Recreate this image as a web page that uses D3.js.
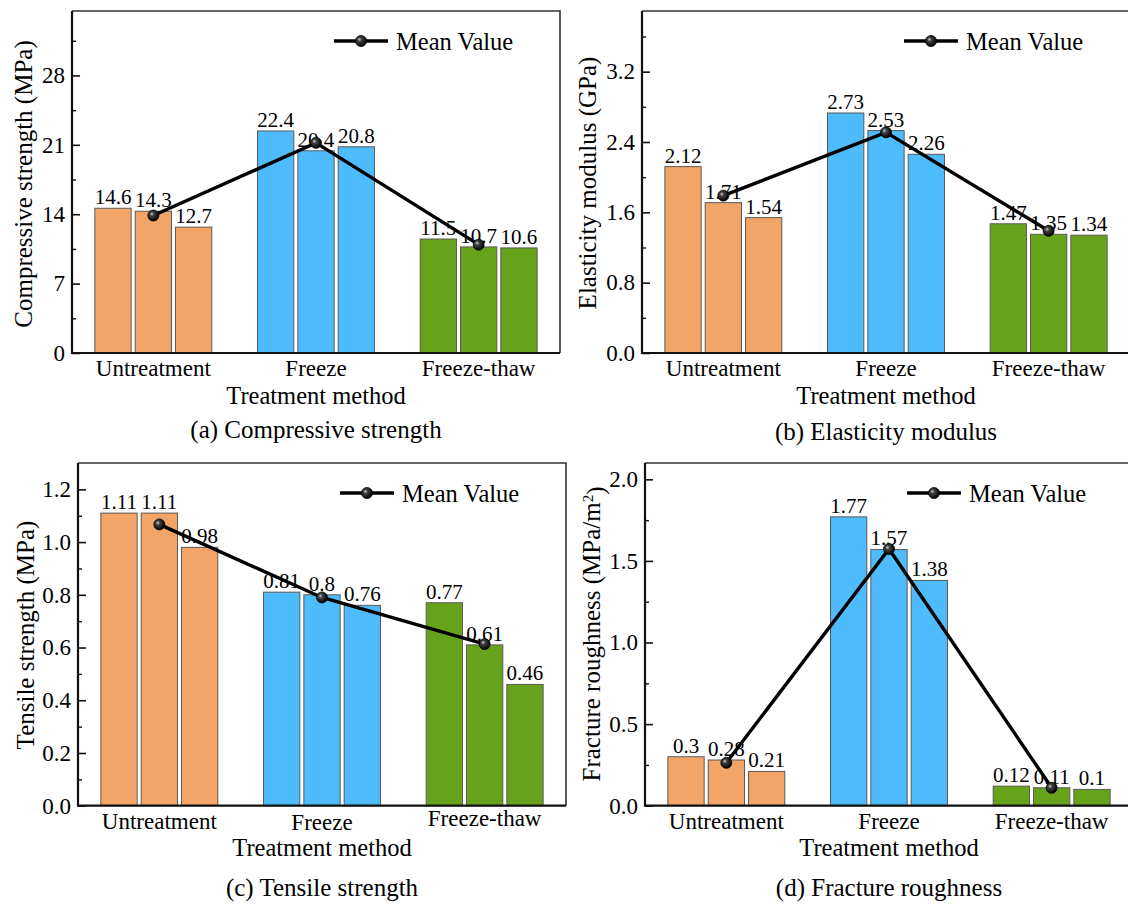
<!DOCTYPE html>
<html>
<head>
<meta charset="utf-8">
<script src="https://cdn.jsdelivr.net/npm/d3@7"></script>
<style>
  html, body { margin: 0; padding: 0; background: #fff; }
  svg { display: block; }
  text { font-family: "Liberation Serif", "Times New Roman", serif; fill: #000; }
</style>
</head>
<body>
<svg id="chart" width="1128" height="908"></svg>
<script>
// Treatment groups shared by all four panels
const categories = ["Untreatment", "Freeze", "Freeze-thaw"];

// (a) Compressive strength, MPa — three specimens per group
const compressiveValues = [[14.6, 14.3, 12.7], [22.4, 20.4, 20.8], [11.5, 10.7, 10.6]];
const compressiveMean = [13.87, 21.2, 10.93];
const compressiveTicks = [0, 7, 14, 21, 28];

// (b) Elasticity modulus, GPa
const elasticityValues = [[2.12, 1.71, 1.54], [2.73, 2.53, 2.26], [1.47, 1.35, 1.34]];
const elasticityMean = [1.79, 2.51, 1.39];
const elasticityTicks = [0, 0.8, 1.6, 2.4, 3.2];

// (c) Tensile strength, MPa
const tensileValues = [[1.11, 1.11, 0.98], [0.81, 0.8, 0.76], [0.77, 0.61, 0.46]];
const tensileMean = [1.067, 0.79, 0.613];
const tensileTicks = [0, 0.2, 0.4, 0.6, 0.8, 1.0, 1.2];

// (d) Fracture roughness, MPa/m²
const roughnessValues = [[0.3, 0.28, 0.21], [1.77, 1.57, 1.38], [0.12, 0.11, 0.1]];
const roughnessMean = [0.263, 1.573, 0.11];
const roughnessTicks = [0, 0.5, 1.0, 1.5, 2.0];

const groupColors = ["#F3A568", "#4EBCFC", "#67A31A"];

const svg = d3.select("#chart");

// radial shading for the mean-value markers
const defs = svg.append("defs");
const grad = defs.append("radialGradient").attr("id", "ball")
  .attr("cx", "40%").attr("cy", "40%").attr("r", "60%").attr("fx", "35%").attr("fy", "35%");
grad.append("stop").attr("offset", "0%").attr("stop-color", "#d0d0d0");
grad.append("stop").attr("offset", "30%").attr("stop-color", "#444");
grad.append("stop").attr("offset", "100%").attr("stop-color", "#000");

const panels = [
  { values: compressiveValues, mean: compressiveMean, ticks: compressiveTicks, yMax: 34.5, minorStep: 3.5,
    fmt: d3.format("d"), title: ["Compressive strength (MPa)"], caption: "(a) Compressive strength",
    left: 72, right: 560, top: 11, bottom: 353, titleX: 23, titleY: 184,
    catY: 376, catDy: [0, 0, 0], xTitleY: 403.5, captionY: 438 },
  { values: elasticityValues, mean: elasticityMean, ticks: elasticityTicks, yMax: 3.89, minorStep: 0.4,
    fmt: d3.format(".1f"), title: ["Elasticity modulus (GPa)"], caption: "(b) Elasticity modulus",
    left: 642, right: 1130, top: 11, bottom: 353, titleX: 587, titleY: 183,
    catY: 376, catDy: [0, 0, 0], xTitleY: 403.5, captionY: 440 },
  { values: tensileValues, mean: tensileMean, ticks: tensileTicks, yMax: 1.3, minorStep: 0.1,
    fmt: d3.format(".1f"), title: ["Tensile strength (MPa)"], caption: "(c) Tensile strength",
    left: 78, right: 566, top: 463, bottom: 805.7, titleX: 25, titleY: 635,
    catY: 829, catDy: [0, 1, -3], xTitleY: 856, captionY: 896 },
  { values: roughnessValues, mean: roughnessMean, ticks: roughnessTicks, yMax: 2.1, minorStep: 0.25,
    fmt: d3.format(".1f"), title: ["Fracture roughness (MPa/m", "2", ")"], caption: "(d) Fracture roughness",
    left: 645, right: 1133, top: 463, bottom: 805.7, titleX: 591, titleY: 634,
    catY: 829, catDy: [0, 0, 0], xTitleY: 856, captionY: 896 }
];

panels.forEach(p => {
  const g = svg.append("g");
  const x = d3.scaleBand().domain(categories).range([p.left, p.right]);
  const xi = d3.scaleBand().domain([0, 1, 2]).range([0, x.bandwidth()])
    .paddingInner(0.1).paddingOuter(0.567);
  const y = d3.scaleLinear().domain([0, p.yMax]).range([p.bottom, p.top]);

  // bars
  categories.forEach((c, ci) => {
    const grp = g.append("g").attr("transform", `translate(${x(c)},0)`);
    grp.selectAll("rect").data(p.values[ci]).join("rect")
      .attr("x", (d, i) => xi(i))
      .attr("y", d => y(d))
      .attr("width", xi.bandwidth())
      .attr("height", d => y(0) - y(d))
      .attr("fill", groupColors[ci])
      .attr("stroke", "#5a5a5a")
      .attr("stroke-width", 1);
    grp.selectAll("text.val").data(p.values[ci]).join("text")
      .attr("class", "val")
      .attr("x", (d, i) => xi(i) + xi.bandwidth() / 2)
      .attr("y", d => y(d) - 4)
      .attr("text-anchor", "middle")
      .style("font-size", "21px")
      .text(d => String(d));
  });

  // frame: top and right edges
  g.append("path")
    .attr("d", `M${p.left},${p.top}H${p.right}V${p.bottom}`)
    .attr("fill", "none").attr("stroke", "#333").attr("stroke-width", 1.6);

  // y axis with inward major and minor ticks
  const yAxis = d3.axisRight(y).tickValues(p.ticks).tickSize(8).tickFormat("");
  const yg = g.append("g").attr("transform", `translate(${p.left},0)`).call(yAxis);
  yg.select(".domain").remove();
  yg.selectAll(".tick line").attr("stroke", "#111").attr("stroke-width", 1.6);
  const minors = d3.range(p.minorStep, p.yMax, p.minorStep).filter(v => !p.ticks.some(t => Math.abs(t - v) < 1e-6));
  const ym = g.append("g").attr("transform", `translate(${p.left},0)`)
    .call(d3.axisRight(y).tickValues(minors).tickSize(4).tickFormat(""));
  ym.select(".domain").remove();
  ym.selectAll(".tick line").attr("stroke", "#111").attr("stroke-width", 1.4);

  g.selectAll("text.ytick").data(p.ticks).join("text")
    .attr("class", "ytick")
    .attr("x", p.left - 7)
    .attr("y", d => y(d))
    .attr("dy", "0.34em")
    .attr("text-anchor", "end")
    .style("font-size", "23px")
    .text(d => p.fmt(d));

  // axis lines
  g.append("path")
    .attr("d", `M${p.left},${p.top}V${p.bottom}H${p.right}`)
    .attr("fill", "none").attr("stroke", "#111").attr("stroke-width", 2.2);

  // category labels
  g.selectAll("text.cat").data(categories).join("text")
    .attr("class", "cat")
    .attr("x", d => x(d) + x.bandwidth() / 2)
    .attr("y", (d, i) => p.catY + p.catDy[i])
    .attr("text-anchor", "middle")
    .style("font-size", "23px")
    .text(d => d);

  const cx = (p.left + p.right) / 2;
  g.append("text").attr("x", cx).attr("y", p.xTitleY)
    .attr("text-anchor", "middle").style("font-size", "24.5px").text("Treatment method");
  g.append("text").attr("x", cx).attr("y", p.captionY)
    .attr("text-anchor", "middle").style("font-size", "25px").text(p.caption);

  // y axis title
  const yt = g.append("text")
    .attr("transform", `translate(${p.titleX},${p.titleY}) rotate(-90)`)
    .attr("text-anchor", "middle").attr("dy", "0.35em")
    .style("font-size", "25px");
  yt.append("tspan").text(p.title[0]);
  if (p.title.length > 1) {
    yt.append("tspan").attr("dy", "-0.45em").style("font-size", "15px").text(p.title[1]);
    yt.append("tspan").attr("dy", "0.45em").text(p.title[2]);
  }

  // mean-value line and markers
  const mx = (c) => x(c) + x.bandwidth() / 2;
  const line = d3.line().x((d, i) => mx(categories[i])).y(d => y(d));
  g.append("path").datum(p.mean).attr("d", line)
    .attr("fill", "none").attr("stroke", "#000").attr("stroke-width", 3.4);
  g.selectAll("circle.mean").data(p.mean).join("circle")
    .attr("class", "mean")
    .attr("cx", (d, i) => mx(categories[i]))
    .attr("cy", d => y(d))
    .attr("r", 5.5)
    .attr("fill", "url(#ball)")
    .attr("stroke", "#000").attr("stroke-width", 0.8);

  // legend
  const lx = p.left + 262, ly = p.top + 30;
  g.append("line").attr("x1", lx).attr("x2", lx + 54).attr("y1", ly).attr("y2", ly)
    .attr("stroke", "#000").attr("stroke-width", 3.4);
  g.append("circle").attr("cx", lx + 27).attr("cy", ly).attr("r", 5.5)
    .attr("fill", "url(#ball)").attr("stroke", "#000").attr("stroke-width", 0.8);
  g.append("text").attr("x", lx + 62).attr("y", ly + 9)
    .style("font-size", "24.5px").text("Mean Value");
});
</script>
</body>
</html>
